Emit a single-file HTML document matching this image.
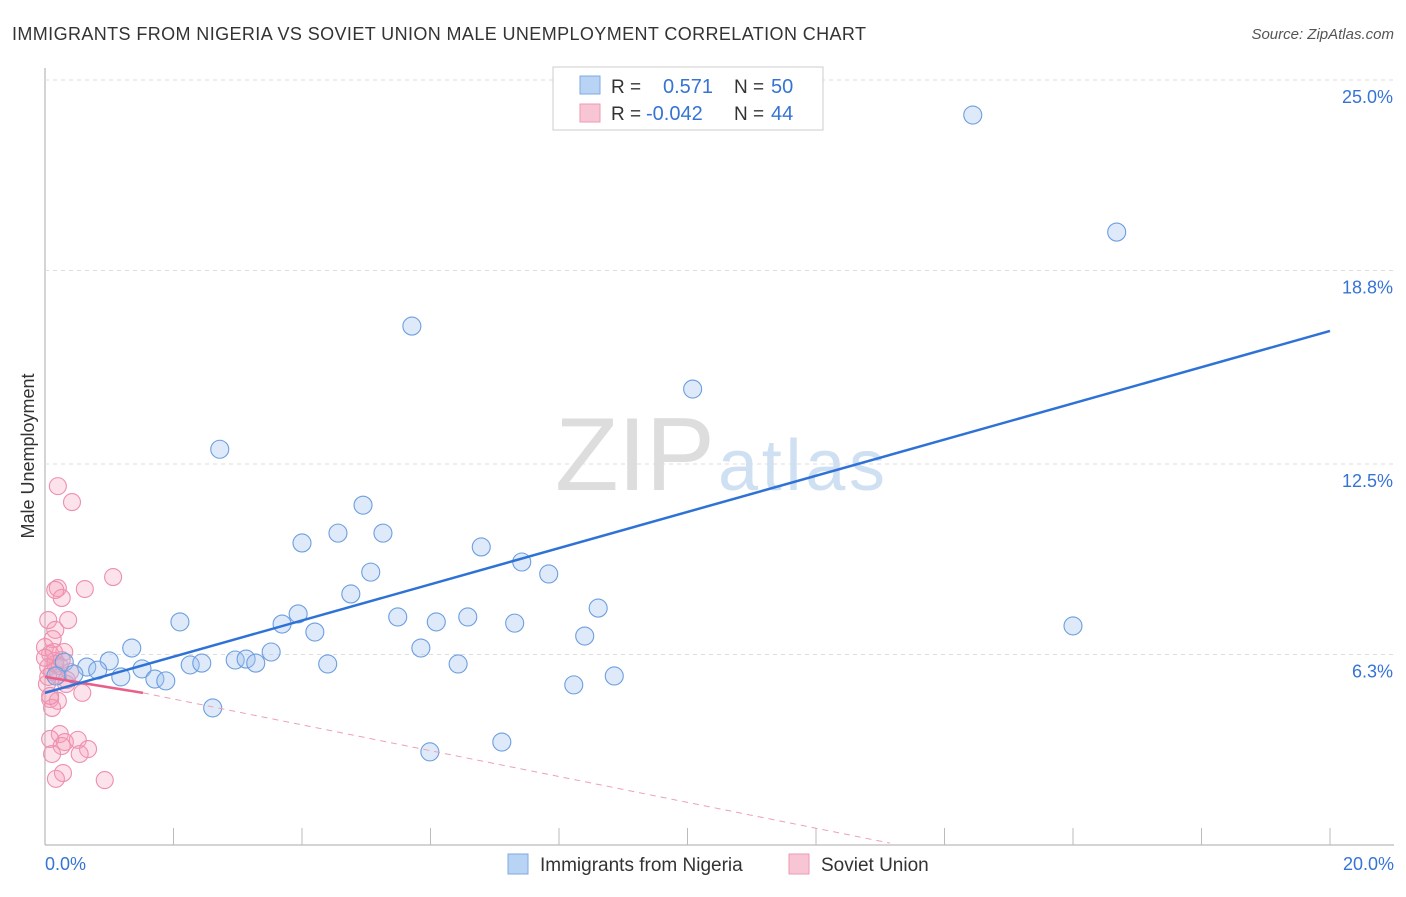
<!DOCTYPE html>
<html><head><meta charset="utf-8"><style>
body{margin:0;background:#fff;font-family:"Liberation Sans",sans-serif;}
svg text{font-family:"Liberation Sans",sans-serif;}
</style></head><body>
<svg id="chart" width="1406" height="892">
<text x="12" y="40" font-size="18" fill="#333" textLength="854">IMMIGRANTS FROM NIGERIA VS SOVIET UNION MALE UNEMPLOYMENT CORRELATION CHART</text>
<text x="1394" y="39" font-size="15" fill="#555" text-anchor="end" font-style="italic">Source: ZipAtlas.com</text>
<text x="715" y="490" font-size="104" fill="#ddd" text-anchor="end" textLength="160" font-family="Liberation Serif">ZIP</text>
<text x="718" y="490" font-size="72" fill="#cfe0f3" textLength="167">atlas</text>
<g id="grid"></g><g id="marks"></g>
<text transform="translate(34,456) rotate(-90)" font-size="18" fill="#333" text-anchor="middle">Male Unemployment</text>
<g>
<rect x="553" y="67" width="270" height="63" fill="#fff" stroke="#ccc"/>
<rect x="580" y="76" width="20" height="18" fill="#b8d3f3" stroke="#7fa9e0"/>
<rect x="580" y="104" width="20" height="18" fill="#f8c5d4" stroke="#ee9ab3"/>
<text x="611" y="93" font-size="19" fill="#333">R =</text><text x="663" y="93" font-size="20" fill="#3574d4">0.571</text>
<text x="734" y="93" font-size="19" fill="#333">N =</text><text x="771" y="93" font-size="20" fill="#3574d4">50</text>
<text x="611" y="120" font-size="19" fill="#333">R =</text><text x="646" y="120" font-size="20" fill="#3574d4">-0.042</text>
<text x="734" y="120" font-size="19" fill="#333">N =</text><text x="771" y="120" font-size="20" fill="#3574d4">44</text>
</g>
<g>
<rect x="508" y="854" width="20" height="20" fill="#b8d3f3" stroke="#7fa9e0"/>
<text x="540" y="871" font-size="19" fill="#333">Immigrants from Nigeria</text>
<rect x="789" y="854" width="20" height="20" fill="#f8c5d4" stroke="#ee9ab3"/>
<text x="821" y="871" font-size="19" fill="#333">Soviet Union</text>
</g>
</svg>
<script>
const yTicks=[25,18.8,12.5,6.3];
const yTickLabels=["25.0%","18.8%","12.5%","6.3%"];
const xTickLabels=["0.0%","20.0%"];
const blueX=[14.44,16.68,5.71,10.08,2.72,4.95,4.00,4.56,5.26,6.79,7.42,7.84,5.07,4.76,2.10,3.94,3.69,4.20,5.49,6.09,6.58,7.31,8.61,8.40,16.00,1.35,5.85,3.52,2.96,3.13,3.28,4.40,6.43,2.26,2.44,1.00,0.65,0.82,0.30,1.51,1.18,1.71,1.88,0.45,0.17,8.23,8.86,2.61,7.11,5.99];
const blueY=[23.86,20.05,16.99,14.94,12.98,11.16,9.93,10.25,10.25,9.80,9.31,8.92,8.98,8.27,7.36,7.62,7.29,7.03,7.52,7.36,7.52,7.32,7.81,6.90,7.23,6.51,6.51,6.38,6.12,6.15,6.02,5.99,5.99,5.96,6.02,6.09,5.89,5.79,6.05,5.83,5.57,5.50,5.44,5.66,5.60,5.31,5.60,4.56,3.45,3.13];
const pinkX=[0.20,0.42,0.20,0.26,0.62,1.06,0.16,0.05,0.36,0.16,0.12,0.30,0.08,0.16,0.05,0.11,0.20,0.34,0.03,0.58,0.08,0.20,0.11,0.23,0.08,0.31,0.51,0.26,0.67,0.54,0.11,0.28,0.17,0.93,0.16,0.23,0.05,0.39,0.26,0.00,0.14,0.33,0.08,0.00];
const pinkY=[11.78,11.26,8.46,8.14,8.43,8.82,8.40,7.42,7.42,7.10,6.80,6.38,6.32,6.09,5.89,5.73,5.63,5.47,5.34,5.05,4.85,4.79,4.56,3.71,3.55,3.45,3.52,3.32,3.22,3.06,3.06,2.44,2.25,2.21,5.99,5.92,5.57,5.73,6.12,6.54,6.38,5.34,4.95,6.19];
const blueLine=[[0,5.05],[20,16.83]];
const pinkLine=[[0,5.57],[1.525,5.05]];
const pinkDash=[[1.525,5.05],[13.15,0.16]];
const X=v=>45+v/20*1285, Y=v=>848-v*30.72;
const NS="http://www.w3.org/2000/svg";
const g=document.getElementById('grid'), m=document.getElementById('marks');
function el(t,a,p){const e=document.createElementNS(NS,t);for(const k in a)e.setAttribute(k,a[k]);p.appendChild(e);return e;}
let ax=el('line',{x1:45,y1:68,x2:45,y2:845,stroke:'#aaa'},g);


let bx=el('line',{x1:45,y1:845,x2:1394,y2:845,stroke:'#aaa'},g);


for(let i=1;i<=10;i++){const t=el('line',{x1:45+i*128.5,y1:828,x2:45+i*128.5,y2:845,stroke:'#bbb'},g);

}
yTicks.forEach((v,i)=>{const l=el('line',{x1:45,y1:Y(v),x2:1394,y2:Y(v),stroke:'#ddd','stroke-dasharray':'4,4'},g);


const t=el('text',{x:1393,y:Y(v)+23,'font-size':18,fill:'#3574d4','text-anchor':'end'},g);t.textContent=yTickLabels[i];

});
[[45,'start'],[1394,'end']].forEach((p,i)=>{const t=el('text',{x:p[0],y:870,'font-size':18,fill:'#3574d4','text-anchor':p[1]},g);t.textContent=xTickLabels[i];

});
pinkX.forEach((v,i)=>{const c=el('circle',{cx:X(v),cy:Y(pinkY[i]),r:8.5,fill:'rgba(244,160,187,0.3)',stroke:'#ee8fae','stroke-width':1.1},m);

});
blueX.forEach((v,i)=>{const c=el('circle',{cx:X(v),cy:Y(blueY[i]),r:9,fill:'rgba(160,195,238,0.35)',stroke:'#6c9ee0','stroke-width':1.1},m);

});
let l1=el('line',{x1:X(pinkDash[0][0]),y1:Y(pinkDash[0][1]),x2:X(pinkDash[1][0]),y2:Y(pinkDash[1][1]),stroke:'#eda0b8','stroke-dasharray':'6,5'},m);


let l2=el('line',{x1:X(pinkLine[0][0]),y1:Y(pinkLine[0][1]),x2:X(pinkLine[1][0]),y2:Y(pinkLine[1][1]),stroke:'#e8608a','stroke-width':2.5},m);


let l3=el('line',{x1:X(blueLine[0][0]),y1:Y(blueLine[0][1]),x2:X(blueLine[1][0]),y2:Y(blueLine[1][1]),stroke:'#2f72d6','stroke-width':2.5},m);


</script>
</body></html>
